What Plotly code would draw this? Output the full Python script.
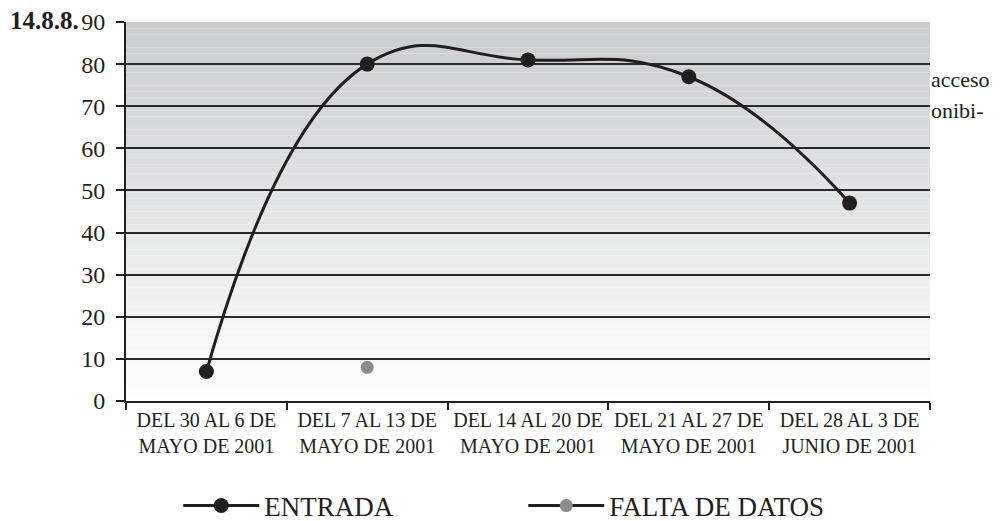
import plotly.graph_objects as go

categories = [
    "DEL 30 AL 6 DE<br>MAYO DE 2001",
    "DEL 7 AL 13 DE<br>MAYO DE 2001",
    "DEL 14 AL 20 DE<br>MAYO DE 2001",
    "DEL 21 AL 27 DE<br>MAYO DE 2001",
    "DEL 28 AL 3 DE<br>JUNIO DE 2001",
]
entrada = [7, 80, 81, 77, 47]
falta_x = [categories[1]]
falta_y = [8]
y_ticks = [0, 10, 20, 30, 40, 50, 60, 70, 80, 90]

SERIF = "Liberation Serif"
INK = "#231f20"

fig = go.Figure()

# vertical gradient background for the plot area
n = 60
top = (203, 204, 206)
bot = (254, 254, 254)
for i in range(n):
    t = i / (n - 1)
    c = tuple(int(round(top[k] + (bot[k] - top[k]) * t)) for k in range(3))
    fig.add_shape(type="rect", xref="paper", yref="paper",
                  x0=0, x1=1, y0=1 - (i + 1) / n, y1=1 - i / n,
                  fillcolor="rgb(%d,%d,%d)" % c, line=dict(width=0),
                  layer="below")

fig.add_trace(go.Scatter(
    x=categories, y=entrada, name="ENTRADA",
    mode="lines+markers",
    line=dict(color=INK, width=3, shape="spline", smoothing=1.3),
    marker=dict(color=INK, size=15),
))
fig.add_trace(go.Scatter(
    x=falta_x, y=falta_y, name="FALTA DE DATOS",
    mode="lines+markers",
    line=dict(color=INK, width=3),
    marker=dict(color="#8a8a8c", size=13),
))

fig.update_layout(
    width=1005, height=521,
    margin=dict(l=118, r=83, t=14, b=128, autoexpand=False),
    paper_bgcolor="white",
    plot_bgcolor="rgba(0,0,0,0)",
    font=dict(family=SERIF, color=INK),
    showlegend=True,
    legend=dict(orientation="h", x=0.065, xanchor="left", y=-0.277, yanchor="middle",
                font=dict(family=SERIF, size=27, color=INK),
                itemwidth=76,
                entrywidth=254, entrywidthmode="pixels",
                bgcolor="rgba(0,0,0,0)"),
    xaxis=dict(type="category", categoryorder="array", categoryarray=categories,
               tickson="boundaries", ticks="outside", ticklen=7, tickwidth=1.5,
               tickcolor=INK, showline=True, linecolor=INK, linewidth=2,
               showgrid=False, zeroline=False,
               tickfont=dict(family=SERIF, size=20, color=INK),
               range=[-0.5, 4.5]),
    yaxis=dict(range=[0, 90], tickvals=y_ticks, ticks="outside", ticklen=8,
               tickwidth=1.5, tickcolor=INK, ticklabelstandoff=6,
               showline=True, linecolor=INK, linewidth=2,
               showgrid=True, gridcolor="#2a2a2a", gridwidth=1.5,
               zeroline=False,
               tickfont=dict(family=SERIF, size=24, color=INK)),
)

fig.add_annotation(text="<b>14.8.8.</b>", xref="paper", yref="paper",
                   x=-0.1468, y=1.005, xanchor="left", yanchor="middle",
                   showarrow=False, font=dict(family=SERIF, size=25, color=INK))
fig.add_annotation(text="acceso", xref="paper", yref="paper",
                   x=0.999, y=(401 - 79) / 379, xanchor="left", yanchor="middle",
                   showarrow=False, font=dict(family=SERIF, size=22, color=INK))
fig.add_annotation(text="onibi-", xref="paper", yref="paper",
                   x=0.999, y=(401 - 110) / 379, xanchor="left", yanchor="middle",
                   showarrow=False, font=dict(family=SERIF, size=22, color=INK))

fig.write_html("out.html")
